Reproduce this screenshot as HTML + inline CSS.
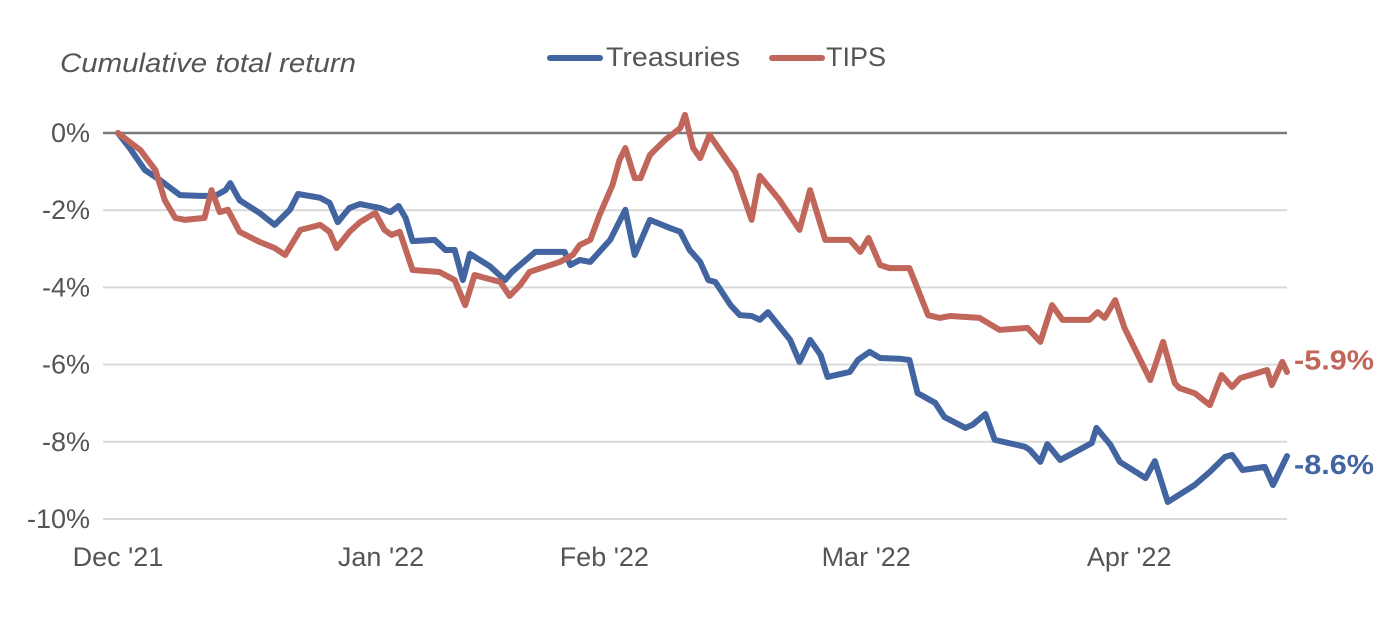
<!DOCTYPE html>
<html><head><meta charset="utf-8"><style>
body{margin:0;background:#fff;font-family:"Liberation Sans",sans-serif;}
</style></head><body>
<svg id="chart" width="1398" height="614" viewBox="0 0 1398 614" xmlns="http://www.w3.org/2000/svg" font-family="Liberation Sans, sans-serif">
<text x="60" y="72" font-size="27" font-style="italic" fill="#555" textLength="296" lengthAdjust="spacingAndGlyphs">Cumulative total return</text>
<g>
<g><line x1="550" y1="58" x2="600" y2="58" stroke="#4264a0" stroke-width="6" stroke-linecap="round"/><text x="606" y="66" font-size="27" fill="#555" textLength="134" lengthAdjust="spacingAndGlyphs">Treasuries</text></g>
<g><line x1="772" y1="58" x2="822" y2="58" stroke="#c1665a" stroke-width="6" stroke-linecap="round"/><text x="826" y="66" font-size="27" fill="#555">TIPS</text></g>
</g>
<g id="grid"></g><g id="yt"></g><g id="xt"></g><g id="series"></g>
</svg>
<script>
const yTicks=[0,-2,-4,-6,-8,-10];
const xTickLabels=["Dec '21","Jan '22","Feb '22","Mar '22","Apr '22"];
const xTickPos=[0,22.5,41.6,64.0,86.5];
const tT=[0,1.0,2.3,3.6,5.3,7.0,8.3,9.2,9.6,10.4,12.1,13.4,14.7,15.4,17.3,18.1,18.8,19.8,20.7,22.4,23.3,24.0,24.6,25.2,27.1,28.0,28.8,29.5,30.1,31.8,33.1,33.7,35.7,38.2,38.7,39.5,40.4,42.1,43.4,44.2,45.5,47.2,48.1,48.9,49.8,50.5,51.1,52.4,53.2,54.2,54.9,55.6,57.5,58.3,59.2,60.1,60.7,62.6,63.3,64.3,65.2,66.9,67.7,68.4,69.9,70.7,72.5,73.1,74.2,75.0,77.6,78.0,78.9,79.5,80.6,82.7,83.3,83.7,84.9,85.7,87.9,88.7,89.8,92.1,93.4,94.7,95.3,96.2,98.1,98.8,100];
const treasuries=[0,-0.39,-0.96,-1.22,-1.61,-1.63,-1.63,-1.48,-1.30,-1.74,-2.07,-2.38,-1.99,-1.58,-1.68,-1.81,-2.31,-1.94,-1.84,-1.94,-2.05,-1.89,-2.20,-2.80,-2.77,-3.03,-3.03,-3.81,-3.13,-3.45,-3.81,-3.60,-3.08,-3.08,-3.42,-3.29,-3.34,-2.77,-1.99,-3.16,-2.25,-2.46,-2.56,-3.03,-3.34,-3.81,-3.86,-4.46,-4.72,-4.74,-4.84,-4.64,-5.36,-5.93,-5.36,-5.75,-6.32,-6.19,-5.88,-5.67,-5.83,-5.85,-5.88,-6.74,-6.99,-7.36,-7.64,-7.56,-7.28,-7.95,-8.13,-8.21,-8.52,-8.06,-8.47,-8.13,-8.03,-7.64,-8.08,-8.52,-8.94,-8.50,-9.56,-9.12,-8.78,-8.39,-8.34,-8.73,-8.65,-9.12,-8.37];
const tP=[0,1.9,3.2,4.0,4.9,5.7,7.4,8.0,8.7,9.4,10.4,12.1,13.4,14.3,15.6,17.3,18.1,18.7,19.8,20.7,22.0,22.8,23.4,24.1,25.2,27.5,28.8,29.7,30.5,32.7,33.5,34.4,35.2,37.8,38.9,39.5,40.4,41.2,42.3,42.9,43.4,44.2,44.7,45.5,46.8,48.1,48.5,49.2,49.8,50.6,52.8,54.2,54.9,56.6,58.3,59.2,60.5,62.6,63.5,64.2,65.2,66.0,67.7,69.3,70.3,71.2,73.7,75.4,77.8,78.9,79.9,80.8,83.1,83.8,84.4,85.3,86.1,88.3,89.4,90.4,90.8,92.1,93.4,94.4,95.3,96.0,98.3,98.7,99.6,100];
const tips=[0,-0.44,-0.96,-1.74,-2.20,-2.25,-2.20,-1.48,-2.05,-1.99,-2.56,-2.82,-2.98,-3.16,-2.51,-2.38,-2.56,-2.98,-2.56,-2.31,-2.07,-2.51,-2.64,-2.56,-3.55,-3.60,-3.81,-4.46,-3.68,-3.86,-4.22,-3.94,-3.60,-3.34,-3.16,-2.90,-2.77,-2.12,-1.35,-0.70,-0.39,-1.17,-1.17,-0.57,-0.18,0.13,0.47,-0.39,-0.65,-0.05,-1.01,-2.25,-1.11,-1.74,-2.51,-1.48,-2.77,-2.77,-3.08,-2.72,-3.42,-3.50,-3.50,-4.72,-4.79,-4.74,-4.79,-5.10,-5.05,-5.41,-4.46,-4.84,-4.84,-4.64,-4.79,-4.33,-5.05,-6.40,-5.41,-6.48,-6.61,-6.74,-7.05,-6.27,-6.58,-6.35,-6.14,-6.53,-5.93,-6.19];
const endLabels=["-8.6%","-5.9%"];
const endVals=[-8.6,-5.9];

const X0=118,X1=1287,Y0=133,PER=38.6;
const xs=t=>X0+(X1-X0)*t/100;
const ys=v=>Y0-v*PER;
const NS="http://www.w3.org/2000/svg";
function mk(tag,parent,attrs){const e=document.createElementNS(NS,tag);for(const k in attrs)e.setAttribute(k,attrs[k]);document.getElementById(parent).appendChild(e);return e;}
yTicks.forEach(v=>{
  const g=mk('line','grid',{x1:103,x2:X1,y1:ys(v),y2:ys(v),stroke:v===0?'#7a7a7a':'#d9d9d9','stroke-width':v===0?2.5:2});
  
  
  const t=mk('text','yt',{x:90,y:ys(v)+9,'text-anchor':'end','font-size':27,fill:'#555'});
  t.textContent=v+'%';
  
  
});
xTickLabels.forEach((l,i)=>{
  const t=mk('text','xt',{x:xs(xTickPos[i]),y:566,'text-anchor':'middle','font-size':27,fill:'#555'});
  t.textContent=l;
  
  
});
function line(ts,vals,col,name){
  const p=mk('polyline','series',{points:ts.map((t,i)=>xs(t)+','+ys(vals[i])).join(' '),fill:'none',stroke:col,'stroke-width':6,'stroke-linejoin':'round','stroke-linecap':'round'});
  
  
}
line(tT,treasuries,'#4264a0','treasuries-line');
line(tP,tips,'#c1665a','tips-line');
const cols=['#4264a0','#c1665a'];
endLabels.forEach((l,i)=>{
  const t=mk('text','series',{x:1294,y:ys(endVals[i])+9,'font-size':28,'font-weight':'bold',fill:cols[i],textLength:80,lengthAdjust:'spacingAndGlyphs'});
  t.textContent=l;
  
  
});
</script>
</body></html>
